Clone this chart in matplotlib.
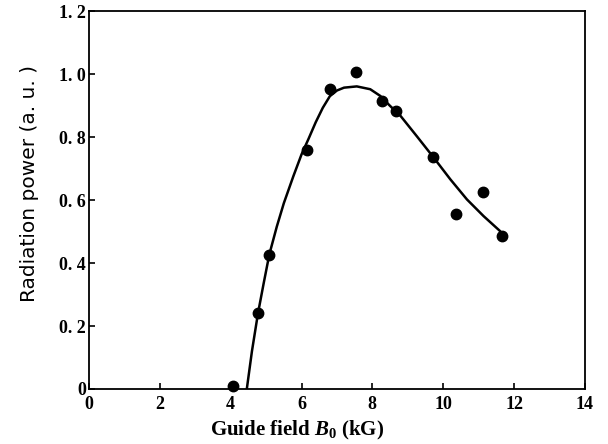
import matplotlib
matplotlib.use('Agg')
import matplotlib.pyplot as plt

plt.rcParams['mathtext.fontset'] = 'custom'
plt.rcParams['mathtext.rm'] = 'Liberation Serif:bold'
plt.rcParams['mathtext.it'] = 'Liberation Serif:italic:bold'
plt.rcParams['mathtext.bf'] = 'Liberation Serif:bold'

# measured points
field_pts = [4.07, 4.77, 5.08, 6.16, 6.81, 7.54, 8.28, 8.67, 9.72, 10.37, 11.13, 11.67]
power_pts = [0.01, 0.24, 0.424, 0.758, 0.952, 1.006, 0.914, 0.882, 0.736, 0.557, 0.627, 0.487]

# fitted curve
curve_x = [4.455, 4.6, 4.77, 4.93, 5.09, 5.3, 5.5, 5.77, 6.0, 6.2, 6.4, 6.6, 6.8, 7.0,
           7.2, 7.56, 7.94, 8.22, 8.50, 8.79, 9.26, 9.73, 10.20, 10.67, 11.14, 11.61]
curve_y = [0.0, 0.12, 0.24, 0.335, 0.427, 0.515, 0.59, 0.676, 0.745, 0.795, 0.847, 0.893, 0.93, 0.948,
           0.957, 0.961, 0.952, 0.931, 0.899, 0.868, 0.802, 0.735, 0.666, 0.602, 0.549, 0.501]

xticks = [0, 2, 4, 6, 8, 10, 12, 14]
yticks = [0, 0.2, 0.4, 0.6, 0.8, 1.0, 1.2]
ytick_labels = ['0', '0. 2', '0. 4', '0. 6', '0. 8', '1. 0', '1. 2']

fig = plt.figure(figsize=(6.08, 4.44), dpi=100)
ax = fig.add_axes([0.1464, 0.1239, 0.8156, 0.851])

ax.plot(curve_x, curve_y, color='black', lw=1.8, solid_joinstyle='round', solid_capstyle='round')
ax.plot(field_pts, power_pts, 'o', color='black', markersize=7.5, clip_on=False)

ax.set_xlim(0, 14)
ax.set_ylim(0, 1.2)
ax.set_xticks(xticks)
ax.set_xticklabels([str(t) for t in xticks], family='Liberation Serif', fontweight='bold', fontsize=13)
ax.set_yticks(yticks)
ax.set_yticklabels(ytick_labels, family='Liberation Serif', fontweight='bold', fontsize=13)
ax.tick_params(direction='in', length=4, width=1.2)
ax.tick_params(axis='x', pad=5)
ax.tick_params(axis='y', pad=2)

for s in ax.spines.values():
    s.set_linewidth(1.3)

ax.set_xlabel(r'Guide field $B_{\mathbf{0}}$ (kG)', family='Liberation Serif',
              fontweight='bold', fontsize=15)
ax.xaxis.set_label_coords(0.419, -0.08)
ax.set_ylabel('Radiation power (a. u. )', family='DejaVu Sans', fontsize=14.5)
ax.yaxis.set_label_coords(-0.1, 0.545)

fig.savefig('out.png', dpi=100)
